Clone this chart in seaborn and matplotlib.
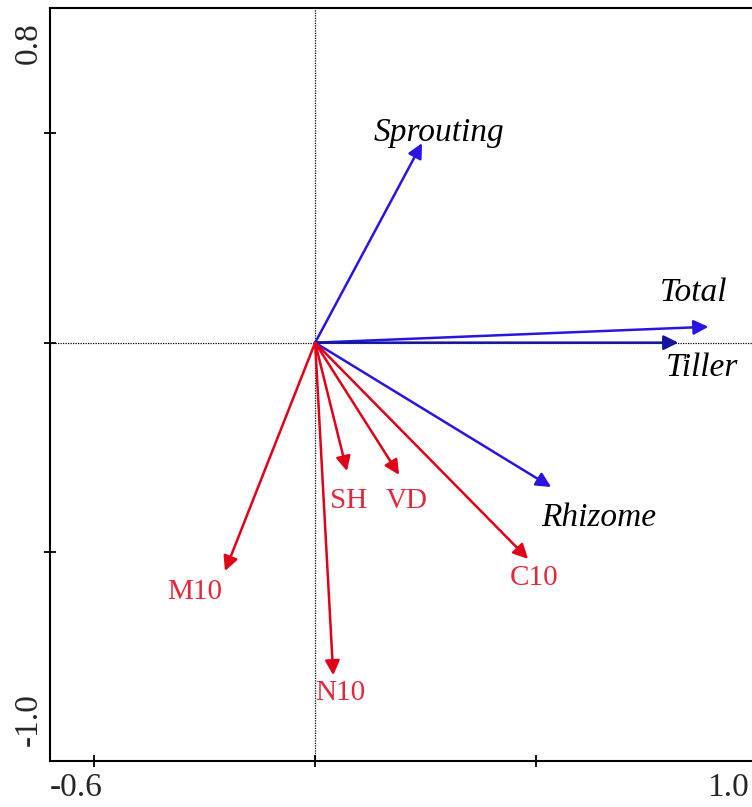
import seaborn as sns
import matplotlib.pyplot as plt

# species (response) arrows
species = ['Sprouting', 'Total', 'Tiller', 'Rhizome']
species_x = [0.242, 0.890, 0.822, 0.534]
species_y = [0.477, 0.038, 0.0, -0.345]
species_lab_x = [0.281, 0.856, 0.876, 0.641]
species_lab_y = [0.501, 0.120, -0.060, -0.419]

# environmental arrows
env = ['SH', 'VD', 'C10', 'M10', 'N10']
env_x = [0.072, 0.190, 0.482, -0.204, 0.041]
env_y = [-0.307, -0.316, -0.517, -0.546, -0.795]
env_lab_x = [0.075, 0.208, 0.496, -0.272, 0.057]
env_lab_y = [-0.378, -0.378, -0.563, -0.596, -0.838]

xlim = (-0.6, 1.0)
ylim = (-1.0, 0.8)
ticks = [-0.5, 0.0, 0.5]

sns.set_theme(style='white')
plt.rcParams['font.family'] = ['Liberation Serif', 'DejaVu Serif']

W, H = 752, 807
fig = plt.figure(figsize=(W / 100, H / 100), dpi=100)
fig.patch.set_linewidth(0)
fig.patch.set_edgecolor('none')
ax = fig.add_axes([50 / W, 46 / H, 707 / W, 753 / H])
ax.patch.set_edgecolor('none')
ax.patch.set_linewidth(0)

ax.set_xlim(*xlim)
ax.set_ylim(*ylim)
ax.set_xticks(ticks)
ax.set_yticks(ticks)
ax.set_xticklabels([])
ax.set_yticklabels([])
ax.tick_params(direction='inout', length=9, width=1.3, color='black',
               bottom=True, left=True, right=False, top=False)
for s in ax.spines.values():
    s.set_color('black')
    s.set_linewidth(1.5)
ax.spines['right'].set_visible(False)  # falls off the canvas in the original

# dotted reference lines through the origin
ax.axhline(0, color='black', lw=0.9, ls=(0, (1, 1)), zorder=1)
ax.axvline(0, color='black', lw=0.9, ls=(0, (1, 1)), zorder=1)

blue = '#2a14e4'
navy = '#14149c'
red = '#e00018'
red_txt = '#e2283a'

for name, x, y, lx, ly in zip(species, species_x, species_y, species_lab_x, species_lab_y):
    c = navy if name == 'Tiller' else blue
    ax.annotate('', xy=(x, y), xytext=(0, 0),
                arrowprops=dict(arrowstyle='-|>', color=c, lw=1.8,
                                mutation_scale=22, shrinkA=0, shrinkB=0),
                zorder=3)
    ax.text(lx, ly, name, fontsize=24, style='italic', color='black',
            ha='center', va='center')

for name, x, y, lx, ly in zip(env, env_x, env_y, env_lab_x, env_lab_y):
    ax.annotate('', xy=(x, y), xytext=(0, 0),
                arrowprops=dict(arrowstyle='-|>', color=red, lw=1.8,
                                mutation_scale=22, shrinkA=0, shrinkB=0),
                zorder=3)
    ax.text(lx, ly, name, fontsize=21, color=red_txt,
            ha='center', va='center')

# axis end labels (placed inward like CANOCO output)
fig.text(76 / W, 1 - 788 / H, '-0.6', fontsize=24, ha='center', va='center')
fig.text(728 / W, 1 - 788 / H, '1.0', fontsize=24, ha='center', va='center')
fig.text(28 / W, 1 - 43 / H, '0.8', fontsize=24, ha='center', va='center', rotation=90)
fig.text(28 / W, 1 - 720 / H, '-1.0', fontsize=24, ha='center', va='center', rotation=90)

fig.savefig('out.png', dpi=100)
